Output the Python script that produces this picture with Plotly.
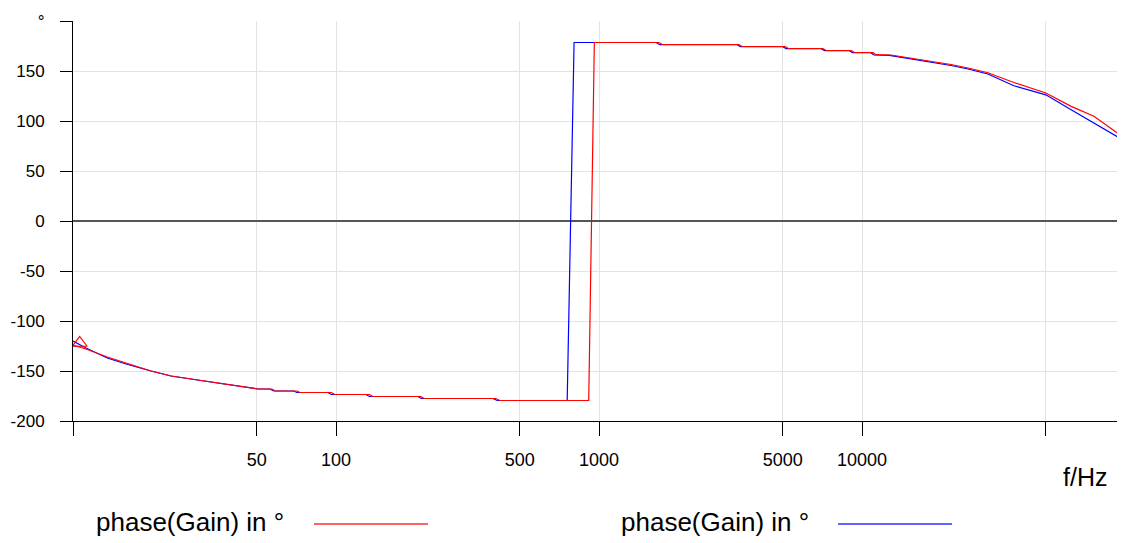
import plotly.graph_objects as go

# ---- data ----
red_f = [10, 11.2, 13.5, 15.9, 19.8, 23.6, 31.5, 42.4, 50.5, 57, 59, 71, 73, 96, 99, 134, 138, 210, 216,
         405, 420, 914, 960, 1690, 1740, 3400, 3500, 5100, 5250, 7100, 7300, 9100, 9350, 11000, 11300,
         12900, 14960, 17800, 21800, 25300, 30100, 37800, 50000, 62400, 76200, 100000]
red_p = [-124, -128, -136, -142, -150, -155, -160, -165, -168, -168, -170, -170, -171.5, -171.5, -173.5,
         -173.5, -175.5, -175.5, -177.5, -177.5, -179.5, -179.5, 178.5, 178.5, 176.5, 176.5, 174.5, 174.5,
         172.5, 172.5, 170.5, 170.5, 168.5, 168.5, 166.3, 166, 163.5, 160, 156.5, 153, 148.3, 138.5, 128,
         114.6, 104.7, 82.5]

blue_f = [10, 11.2, 13.5, 15.9, 19.8, 23.6, 31.5, 42.4, 50.5, 56, 58, 69, 71, 93, 96, 130, 134, 205, 211,
          395, 410, 757, 804, 1650, 1700, 3350, 3450, 5000, 5150, 7000, 7200, 8950, 9200, 10800, 11100,
          12700, 14960, 17800, 21800, 25300, 30100, 37800, 50000, 62400, 76200, 100000]
blue_p = [-120, -127, -137, -143, -150, -155, -160, -165, -168, -168, -170, -170, -171.5, -171.5, -173.5,
          -173.5, -175.5, -175.5, -177.5, -177.5, -179.5, -179.5, 178.5, 178.5, 176.3, 176.3, 174.3, 174.3,
          172.3, 172.3, 170.3, 170.3, 168.3, 168.3, 166, 165.7, 162.8, 159.3, 155.5, 152, 147, 135.2, 126.2,
          111.3, 98, 79.8]

marker_f = [10.6]
marker_p = [-122]

x_tickvals = [10, 50, 100, 500, 1000, 5000, 10000, 50000]
x_ticktext = ["", "50", "100", "500", "1000", "5000", "10000", ""]
y_tickvals = [-200, -150, -100, -50, 0, 50, 100, 150, 200]
y_ticktext = ["-200", "-150", "-100", "-50", "0", "50", "100", "150", "°"]

legend_label = "phase(Gain) in °"
x_title = "f/Hz"

FONT = "Liberation Sans, Arial, sans-serif"
OFF = 8  # page body margin
W, H = 1125 - OFF, 543 - OFF
L, R, T = 73 - OFF, 0, 21 - OFF
B = H - (421 - OFF)
PW, PH = W - L - R, H - T - B


def px_x(px):
    return (px - OFF - L) / PW


def px_y(py):
    return (H - B - (py - OFF)) / PH


fig = go.Figure()
fig.add_trace(go.Scatter(x=blue_f, y=blue_p, mode="lines",
                         line=dict(color="#0000ff", width=1.2), showlegend=False))
fig.add_trace(go.Scatter(x=red_f, y=red_p, mode="lines",
                         line=dict(color="#ff0000", width=1.2), showlegend=False))
fig.add_trace(go.Scatter(x=marker_f, y=marker_p, mode="markers",
                         marker=dict(symbol="triangle-up-open", size=13, color="#ff0000",
                                     line=dict(width=1.2, color="#ff0000")),
                         showlegend=False))

fig.update_xaxes(type="log", range=[1, 5], tickvals=x_tickvals, ticktext=x_ticktext,
                 showgrid=True, gridcolor="#e3e3e3", gridwidth=1,
                 ticks="outside", ticklen=14, tickcolor="#000", tickwidth=1,
                 showline=True, linecolor="#000", linewidth=1,
                 tickfont=dict(family=FONT, size=18, color="#000"),
                 ticklabelstandoff=8, zeroline=False, automargin=False)
fig.update_yaxes(range=[-200, 200], tickvals=y_tickvals, ticktext=y_ticktext,
                 showgrid=True, gridcolor="#e3e3e3", gridwidth=1,
                 zeroline=True, zerolinecolor="#555555", zerolinewidth=1.5,
                 ticks="outside", ticklen=12, tickcolor="#000", tickwidth=1,
                 showline=True, linecolor="#000", linewidth=1,
                 tickfont=dict(family=FONT, size=17, color="#000"),
                 ticklabelstandoff=12, automargin=False)

annotations = [
    dict(text=x_title, xref="paper", yref="paper", x=px_x(1085), y=px_y(477),
         xanchor="center", yanchor="middle", showarrow=False,
         font=dict(family=FONT, size=25, color="#000")),
    dict(text=legend_label, xref="paper", yref="paper", x=px_x(94), y=px_y(522),
         xanchor="left", yanchor="middle", showarrow=False,
         font=dict(family=FONT, size=26, color="#000")),
    dict(text=legend_label, xref="paper", yref="paper", x=px_x(619), y=px_y(522),
         xanchor="left", yanchor="middle", showarrow=False,
         font=dict(family=FONT, size=26, color="#000")),
]
shapes = [
    dict(type="line", xref="paper", yref="paper", x0=px_x(314), x1=px_x(428), y0=px_y(524), y1=px_y(524),
         line=dict(color="#ff3030", width=1.6)),
    dict(type="line", xref="paper", yref="paper", x0=px_x(838), x1=px_x(952), y0=px_y(524), y1=px_y(524),
         line=dict(color="#3030ff", width=1.6)),
]

fig.update_layout(width=W, height=H, margin=dict(l=L, r=R, t=T, b=B, pad=0, autoexpand=False),
                  paper_bgcolor="white", plot_bgcolor="white",
                  annotations=annotations, shapes=shapes, showlegend=False,
                  font=dict(family=FONT, color="#000"))

fig.write_html("out.html")
